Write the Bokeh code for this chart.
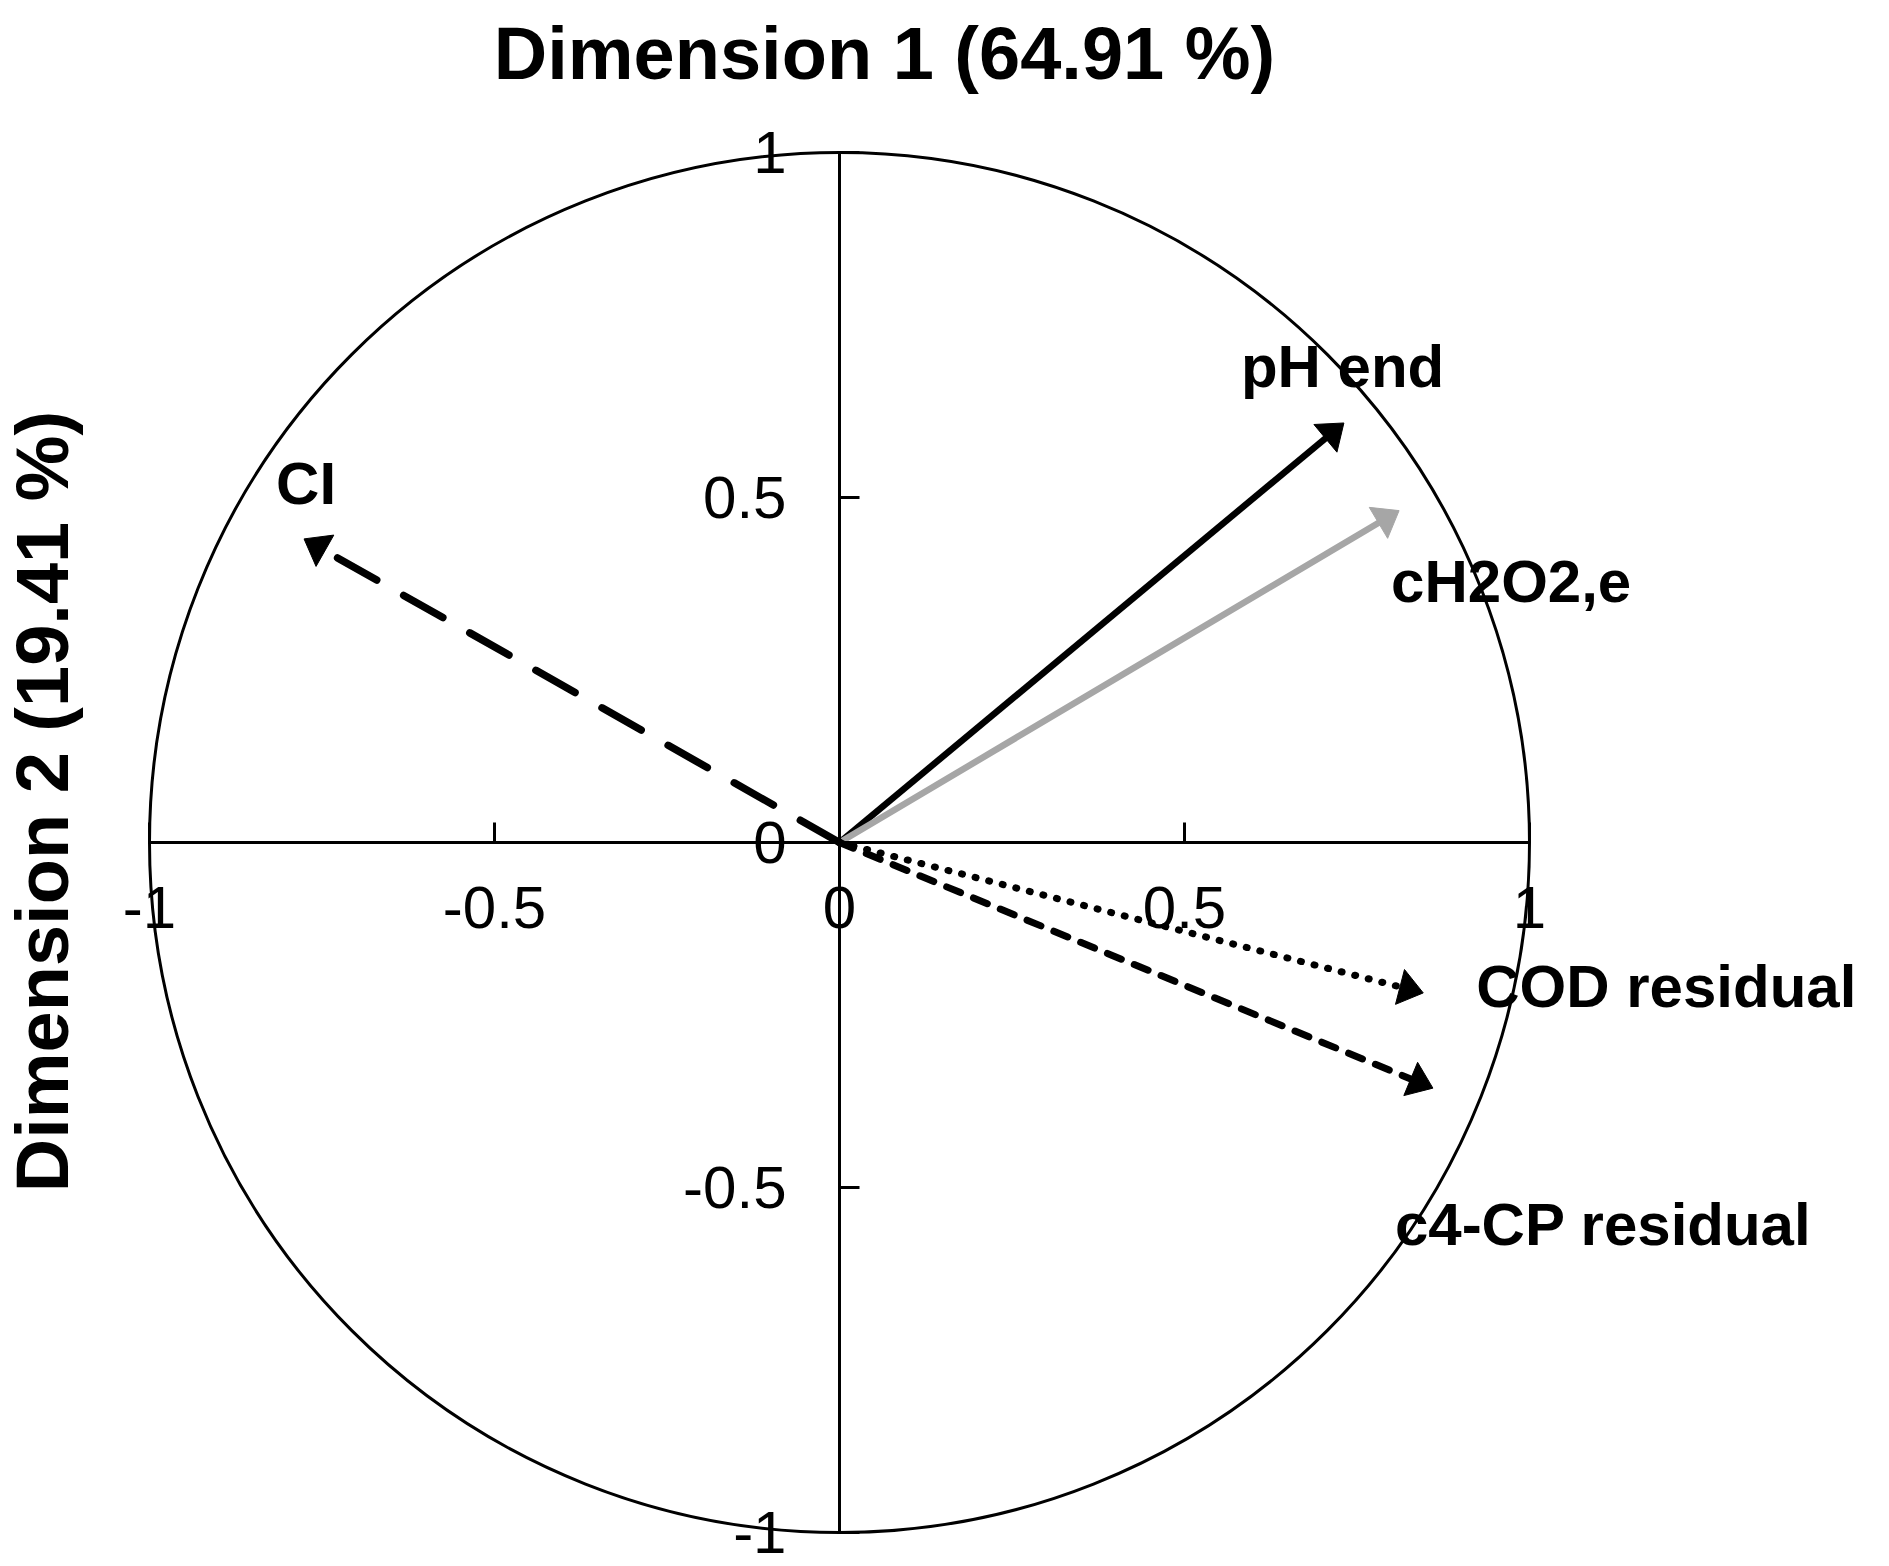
import numpy as np
from bokeh.plotting import figure
from bokeh.models import Range1d, LinearAxis, FixedTicker, NumeralTickFormatter, Label
from bokeh.embed import file_html
from bokeh.resources import INLINE
from bokeh.core.properties import value

# ---- data ----
variables = ["pH end", "cH2O2,e", "CI", "COD residual", "c4-CP residual"]
dim1 = [0.731, 0.811, -0.776, 0.846, 0.860]
dim2 = [0.608, 0.481, 0.440, -0.218, -0.356]
ticks = [-1, -0.5, 0, 0.5, 1]
title_text = "Dimension 1 (64.91 %)"
ylabel_text = "Dimension 2 (19.41 %)"

# ---- styles ----
colors = ["black", "#a6a6a6", "black", "black", "black"]
widths = [6.5, 6.5, 7.5, 7, 7]
dashes = ["solid", "solid", "45 31", "1 13", "15 14"]
caps = ["butt", "butt", "round", "round", "round"]
label_dx = [-103, -8, -28, 53, -38]   # pixel offsets of labels from arrow tips
label_dy = [-56, 71, -55, -6, 136]

FONT = "Liberation Sans"
W, H = 1889, 1566
PX = 690.0            # pixels per unit
cx, cy = 839, 842     # origin position in figure pixels (from top-left)

p = figure(width=W, height=H, output_backend="svg", toolbar_location=None,
           x_range=Range1d(-cx / PX, (W - cx) / PX),
           y_range=Range1d(-(H - cy) / PX, cy / PX),
           x_axis_type=None, y_axis_type=None, min_border=0,
           outline_line_color=None, background_fill_color="white")
p.xgrid.visible = False
p.ygrid.visible = False

# correlation circle
p.circle(x=[0], y=[0], radius=1, fill_color=None, line_color="black", line_width=3)

# axes crossing at the origin
xaxis = LinearAxis(fixed_location=0, ticker=FixedTicker(ticks=ticks),
                   formatter=NumeralTickFormatter(format="0.[0]"), bounds=(-1, 1))
yaxis = LinearAxis(fixed_location=0, ticker=FixedTicker(ticks=ticks),
                   formatter=NumeralTickFormatter(format="0.[0]"), bounds=(-1, 1))
for ax in (xaxis, yaxis):
    ax.axis_line_width = 3
    ax.major_tick_line_width = 3
    ax.major_tick_in = 20
    ax.major_tick_out = 0
    ax.minor_tick_line_color = None
    ax.major_label_text_font = FONT
    ax.major_label_text_font_size = "60px"
    ax.major_label_text_color = "black"
xaxis.major_label_standoff = 44
yaxis.major_label_standoff = 53
p.add_layout(xaxis, "below")
p.add_layout(yaxis, "left")

# arrows
HL, HW = 24 / PX, 18 / PX
tri_xs, tri_ys = [], []
for i in range(len(variables)):
    x, y = dim1[i], dim2[i]
    n = np.hypot(x, y)
    ux, uy = x / n, y / n
    bx, by = x - HL * ux, y - HL * uy
    tri_xs.append([x, bx - HW * uy, bx + HW * uy])
    tri_ys.append([y, by + HW * ux, by - HW * ux])
    ext = 0.4 * HL if dashes[i] == "solid" else 0.0
    p.line(x=[0, bx + ext * ux], y=[0, by + ext * uy], line_color=colors[i],
           line_width=widths[i], line_dash=dashes[i], line_cap=caps[i])
p.patches(xs=tri_xs, ys=tri_ys, fill_color=colors, line_color=colors, line_width=1)

# variable labels
p.text(x=dim1, y=dim2, text=variables, x_offset=label_dx, y_offset=label_dy,
       text_font=value(FONT), text_font_style="bold", text_font_size="60px",
       text_align="left", text_baseline="alphabetic", text_color="black")

# titles
p.add_layout(Label(x=884, y=H - 53, x_units="screen", y_units="screen", text=title_text,
                   text_font=FONT, text_font_style="bold", text_font_size="74px",
                   text_color="black", text_align="center", text_baseline="alphabetic"))
p.add_layout(Label(x=42, y=H - 801, x_units="screen", y_units="screen", text=ylabel_text,
                   text_font=FONT, text_font_style="bold", text_font_size="74px",
                   text_color="black", text_align="center", text_baseline="middle",
                   angle=np.pi / 2))

open("out.html", "w").write(file_html(p, INLINE))
